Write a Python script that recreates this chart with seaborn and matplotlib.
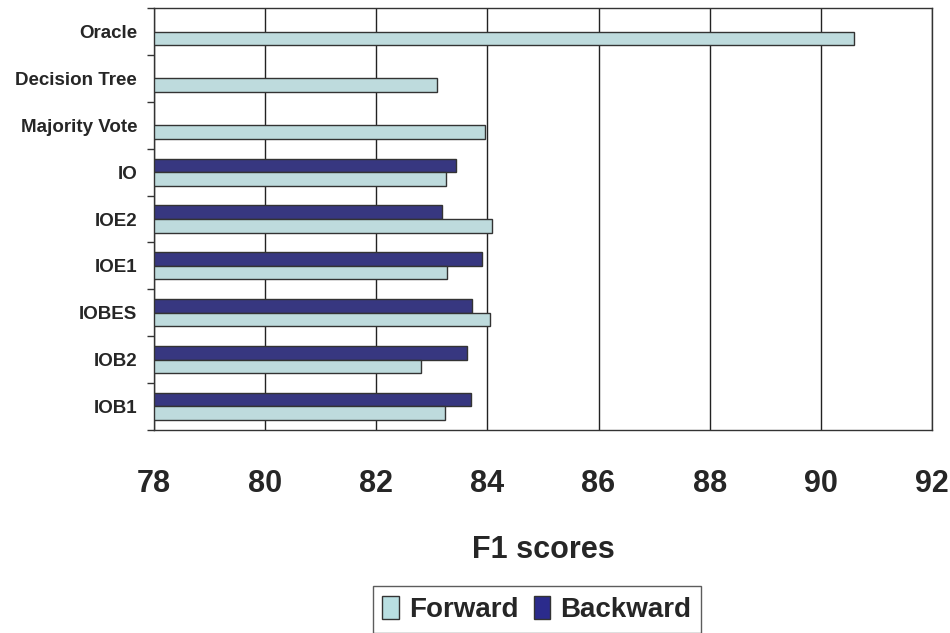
import numpy as np
import pandas as pd
import matplotlib
matplotlib.use("Agg")
import matplotlib.pyplot as plt
import seaborn as sns
from matplotlib.patches import Patch
from matplotlib.ticker import FixedLocator

methods = ["Oracle", "Decision Tree", "Majority Vote", "IO", "IOE2",
           "IOE1", "IOBES", "IOB2", "IOB1"]
forward = [90.6, 83.1, 83.96, 83.25, 84.09, 83.27, 84.05, 82.8, 83.23]
backward = [np.nan, np.nan, np.nan, 83.43, 83.19, 83.9, 83.72, 83.64, 83.7]

fwd_color = "#B9DFE2"
bwd_color = "#2B2B8C"

df = pd.DataFrame({
    "method": methods * 2,
    "score": forward + backward,
    "dir": ["Forward"] * len(methods) + ["Backward"] * len(methods),
})

sns.set_style("white")
plt.rcParams["font.family"] = ["Liberation Sans", "DejaVu Sans"]

fig = plt.figure(figsize=(9.5, 6.33), dpi=100)
ax = fig.add_axes([0.162, 0.321, 0.819, 0.666])

sns.barplot(data=df, y="method", x="score", hue="dir", order=methods,
            hue_order=["Backward", "Forward"],
            palette={"Forward": fwd_color, "Backward": bwd_color},
            width=0.58, orient="h", edgecolor="#333333", linewidth=1.0,
            legend=False, ax=ax)

ax.set_xlim(78, 92)
ax.set_ylim(8.5, -0.5)
ax.set_xticks(np.arange(78, 93, 2))
ax.xaxis.grid(True, color="#222222", linewidth=1.0)
ax.set_axisbelow(True)
for s in ax.spines.values():
    s.set_color("#333333")
    s.set_linewidth(1.0)

ax.tick_params(axis="x", direction="inout", length=14, width=1.0,
               color="#333333", pad=21)
for lbl in ax.get_xticklabels():
    lbl.set_fontweight("bold")
    lbl.set_fontsize(22)

ax.yaxis.set_minor_locator(FixedLocator(np.arange(-0.5, 9.0, 1.0)))
ax.tick_params(axis="y", which="major", length=0, pad=12)
ax.tick_params(axis="y", which="minor", direction="out", length=5,
               width=1.0, color="#333333", left=True)
for lbl in ax.get_yticklabels():
    lbl.set_fontweight("bold")
    lbl.set_fontsize(13.5)

ax.set_ylabel("")
ax.set_xlabel("F1 scores", fontweight="bold", fontsize=22, labelpad=26)

handles = [Patch(facecolor=fwd_color, edgecolor="#333333", label="Forward"),
           Patch(facecolor=bwd_color, edgecolor="#333333", label="Backward")]
leg = fig.legend(handles=handles, loc="center", ncol=2,
                 bbox_to_anchor=(0.565, 0.037), frameon=True, fancybox=False,
                 edgecolor="#333333", handlelength=0.6, handleheight=0.9,
                 handletextpad=0.35, columnspacing=0.55, borderpad=0.35,
                 prop={"weight": "bold", "size": 20})
leg.get_frame().set_linewidth(1.0)

fig.savefig("out.png", dpi=100, facecolor="white")
